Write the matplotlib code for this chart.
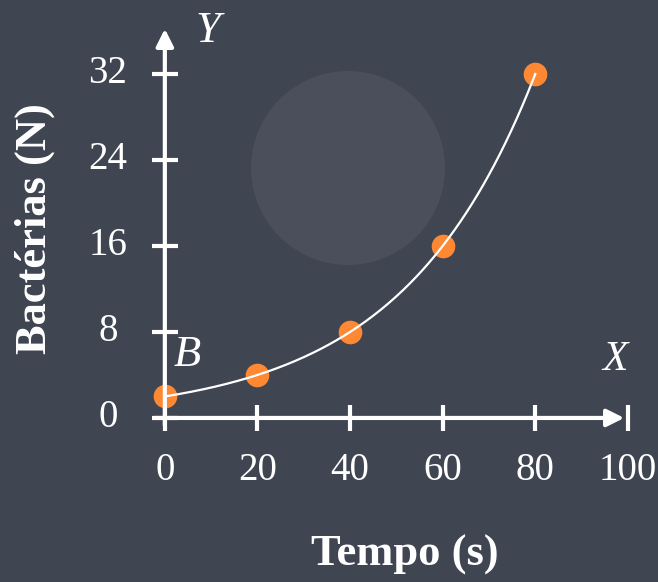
import numpy as np
import matplotlib
matplotlib.use("Agg")
import matplotlib.pyplot as plt
from matplotlib.patches import Ellipse

tempo = [0, 20, 40, 60, 80]
bacterias = [2, 4, 8, 16, 32]
x_ticks = [0, 20, 40, 60, 80, 100]
y_ticks = [0, 8, 16, 24, 32]

bg = "#404552"
orange = "#ff8833"

plt.rcParams["font.family"] = ["Liberation Serif", "DejaVu Serif"]

fig = plt.figure(figsize=(6.58, 5.82), dpi=100, facecolor=bg)
ax = fig.add_axes([0, 0, 1, 1])
ax.set_facecolor(bg)
ax.set_xlim(-35.6, 106.5)
ax.set_ylim(-15.26, 38.88)
ax.axis("off")

# faint decorative circle in the background (round in pixels)
ax.add_patch(Ellipse((348 / 658, 1 - 168 / 582), 2 * 97 / 658, 2 * 97 / 582,
                     transform=ax.transAxes, facecolor="#4a4f5b",
                     edgecolor="none", zorder=0))

# axes with arrows
arrow = dict(arrowstyle="-|>", lw=3, color="white", mutation_scale=26,
             shrinkA=0, shrinkB=0)
ax.annotate("", xy=(99.2, 0), xytext=(-2.3, 0), arrowprops=arrow)
ax.annotate("", xy=(0, 36.2), xytext=(0, -0.7), arrowprops=arrow)

# ticks crossing the axes
for xt in x_ticks:
    ax.plot([xt, xt], [-1.25, 1.25], color="white", lw=3, solid_capstyle="butt")
    ax.text(xt, -4.9, str(xt), ha="center", va="center", color="white", fontsize=28)
for yt in y_ticks:
    ax.plot([-2.8, 2.8], [yt, yt], color="white", lw=3, solid_capstyle="butt")
    ax.text(-12.3, yt, str(yt), ha="center", va="center", color="white", fontsize=28)

# exponential fit through the data
k, c = np.polyfit(tempo, np.log(bacterias), 1)
xs = np.linspace(min(tempo), max(tempo), 200)
ax.plot(xs, np.exp(c + k * xs), color="white", lw=1.6, zorder=3)
ax.plot(tempo, bacterias, "o", color=orange, markersize=16, zorder=2)

ax.text(4.8, 5.9, "B", style="italic", color="white", fontsize=32, ha="center", va="center")
ax.text(97.2, 5.4, "X", style="italic", color="white", fontsize=30, ha="center", va="center")
ax.text(9.2, 36.0, "Y", style="italic", color="white", fontsize=32, ha="center", va="center")

ax.text(-28.2, 17.6, "Bactérias (N)", rotation=90, fontweight="bold", color="white",
        fontsize=32, ha="center", va="center")
ax.text(51.8, -12.7, "Tempo (s)", fontweight="bold", color="white",
        fontsize=32, ha="center", va="center")

fig.savefig("out.png", dpi=100, facecolor=bg)
